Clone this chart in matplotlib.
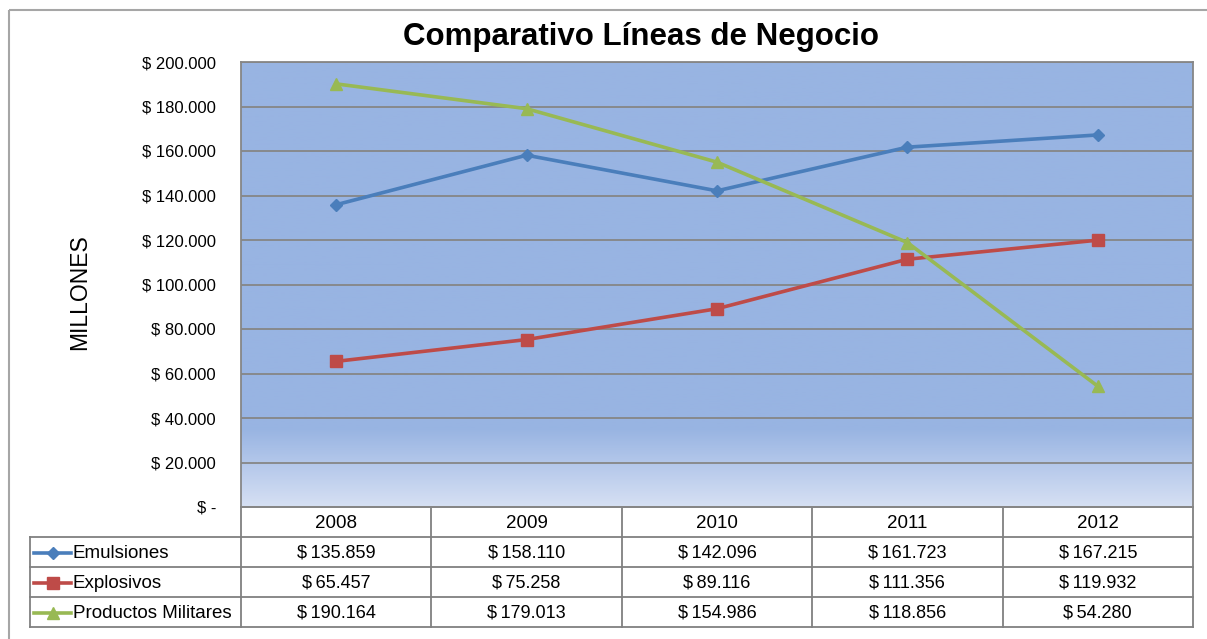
import numpy as np
import matplotlib
matplotlib.use("Agg")
import matplotlib.pyplot as plt
from matplotlib.patches import Rectangle
from matplotlib.colors import LinearSegmentedColormap

plt.rcParams['font.family'] = ['Liberation Sans', 'DejaVu Sans']

years = ["2008", "2009", "2010", "2011", "2012"]
series_names = ["Emulsiones", "Explosivos", "Productos Militares"]
emulsiones = [135859, 158110, 142096, 161723, 167215]
explosivos = [65457, 75258, 89116, 111356, 119932]
militares = [190164, 179013, 154986, 118856, 54280]
series_values = [emulsiones, explosivos, militares]
colors = ["#4A7EBB", "#BE4B48", "#98B954"]
markers = ["D", "s", "^"]
msizes = [6.5, 8, 8]
yticks = [0, 20000, 40000, 60000, 80000, 100000, 120000, 140000, 160000, 180000, 200000]
title = "Comparativo Líneas de Negocio"
ylabel = "MILLONES"


def fmt(v):
    if v == 0:
        return "$ -"
    return "$ " + f"{v:,}".replace(",", ".")


def fmt_tab(v):
    return "$\u2009" + f"{v:,}".replace(",", ".")


W, H = 1207, 639
fig = plt.figure(figsize=(W / 100, H / 100), dpi=100)
fig.patch.set_facecolor("white")

# overlay axes in pixel coordinates for frame and table
ov = fig.add_axes([0, 0, 1, 1])
ov.set_xlim(0, W)
ov.set_ylim(H, 0)
ov.axis("off")
ov.add_patch(Rectangle((9, 10), W + 20, H + 20, fill=False, edgecolor="#A6A6A6", lw=1.5))

# main plot area
x0, x1, y0, y1 = 241, 1193, 62, 507
ax = fig.add_axes([x0 / W, 1 - y1 / H, (x1 - x0) / W, (y1 - y0) / H])
ax.set_xlim(-0.5, len(years) - 0.5)
ax.set_ylim(0, 200000)

# gradient background
cmap = LinearSegmentedColormap.from_list(
    "bg", [(0.0, "#D6E0F3"), (0.09, "#B6C9EB"), (0.175, "#98B4E2"), (1.0, "#98B4E2")])
grad = np.linspace(0, 1, 256).reshape(-1, 1)
ax.imshow(grad, aspect="auto", cmap=cmap, origin="lower",
          extent=(-0.5, len(years) - 0.5, 0, 200000), zorder=0)

ax.set_yticks(yticks)
ax.set_yticklabels([fmt(v) for v in yticks], fontsize=12)
ax.yaxis.grid(True, color="#868686", lw=1.3, zorder=1)
ax.set_axisbelow(False)
ax.set_xticks([])
ax.tick_params(axis="y", length=0, pad=18)
for s in ax.spines.values():
    s.set_color("#868686")
    s.set_linewidth(1.3)

xs = np.arange(len(years))
for vals, c, m, ms in zip(series_values, colors, markers, msizes):
    ax.plot(xs, vals, color=c, lw=2.6, marker=m, markersize=ms, zorder=3)

fig.text(80 / W, 1 - 292 / H, ylabel, rotation=90, fontsize=16.5, ha="center", va="center")
fig.text(641 / W, 1 - 37 / H, title, fontsize=22.5, fontweight="bold", ha="center", va="center")

# data table
col_edges = np.linspace(x0, x1, len(years) + 1)
row_edges = [507, 537, 567, 597, 627]
left = 30
grid_c = "#808080"
ov.plot([x0, x1], [row_edges[0], row_edges[0]], color=grid_c, lw=1.3)
for ry in row_edges[1:]:
    ov.plot([left, x1], [ry, ry], color=grid_c, lw=1.3)
ov.plot([left, left], [row_edges[1], row_edges[-1]], color=grid_c, lw=1.3)
for cx in col_edges:
    ov.plot([cx, cx], [row_edges[0], row_edges[-1]], color=grid_c, lw=1.3)

centers = (col_edges[:-1] + col_edges[1:]) / 2
for cx, yr in zip(centers, years):
    ov.text(cx, (row_edges[0] + row_edges[1]) / 2 + 2, yr, fontsize=13.5, ha="center", va="center")
for i, (name, vals, c, m, ms) in enumerate(zip(series_names, series_values, colors, markers, msizes)):
    ry = (row_edges[i + 1] + row_edges[i + 2]) / 2 + 1
    ov.plot([34, 71], [ry, ry], color=c, lw=2.6)
    ov.plot([52.5], [ry], color=c, marker=m, markersize=ms)
    ov.text(73, ry, name, fontsize=13.5, ha="left", va="center")
    for cx, v in zip(centers, vals):
        ov.text(cx, ry, fmt_tab(v), fontsize=13, ha="center", va="center")

fig.savefig("out.png", dpi=100)
